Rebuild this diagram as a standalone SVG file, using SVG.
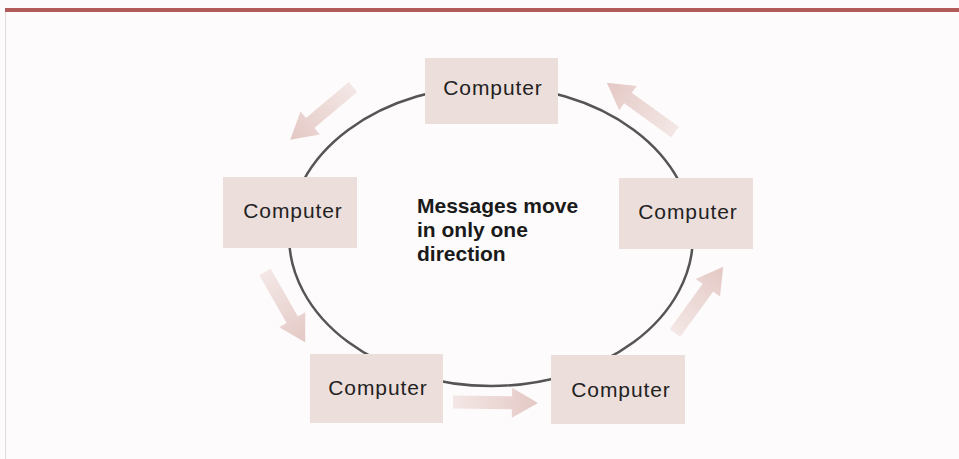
<svg xmlns="http://www.w3.org/2000/svg" width="959" height="459" viewBox="0 0 959 459">
<defs>
<linearGradient id="ag" x1="0" y1="0" x2="1" y2="0">
<stop offset="0" stop-color="#f3e7e5"/>
<stop offset="0.6" stop-color="#ead5d2"/>
<stop offset="1" stop-color="#e4c8c5"/>
</linearGradient>
<style>
.box{fill:#ecdedb}
.lbl{font-family:"Liberation Sans",Arial,sans-serif;font-size:21px;letter-spacing:0.9px;fill:#222;text-anchor:middle}
.msg{font-family:"Liberation Sans",Arial,sans-serif;font-size:21px;font-weight:bold;fill:#1a1a1a}
.arr{fill:url(#ag)}
</style>
</defs>
<rect x="0" y="0" width="959" height="459" fill="#fdfbfb"/>
<rect x="5" y="8" width="954" height="4" fill="#b35a5a"/>
<line x1="5.5" y1="12" x2="5.5" y2="459" stroke="#e2dcdc" stroke-width="1"/>
<g id="connectors">
<ellipse cx="491" cy="236" rx="202" ry="150" fill="none" stroke="#555" stroke-width="2.5"/>
<g id="arrows">
<path class="arr" transform="translate(353,87) rotate(139.9)" d="M0,-6.5 L56,-6.5 L56,-15 L82,0 L56,15 L56,6.5 L0,6.5 Z"/>
<path class="arr" transform="translate(675,132) rotate(-144.2)" d="M0,-6.5 L58,-6.5 L58,-15 L84,0 L58,15 L58,6.5 L0,6.5 Z"/>
<path class="arr" transform="translate(265,272) rotate(60.3)" d="M0,-6.5 L55,-6.5 L55,-15 L81,0 L55,15 L55,6.5 L0,6.5 Z"/>
<path class="arr" transform="translate(675,333) rotate(-54)" d="M0,-6.5 L56,-6.5 L56,-15 L82,0 L56,15 L56,6.5 L0,6.5 Z"/>
<path class="arr" transform="translate(453,402) rotate(0.7)" d="M0,-6.5 L59,-6.5 L59,-15 L85,0 L59,15 L59,6.5 L0,6.5 Z"/>
</g>
</g>
<g id="node-top"><rect class="box" x="425" y="58" width="133" height="66"/><text class="lbl" x="493" y="95">Computer</text></g>
<g id="node-left"><rect class="box" x="223" y="177" width="134" height="71"/><text class="lbl" x="293" y="218">Computer</text></g>
<g id="node-right"><rect class="box" x="619" y="178" width="134" height="71"/><text class="lbl" x="688" y="219">Computer</text></g>
<g id="node-bottom-left"><rect class="box" x="310" y="354" width="133" height="69"/><text class="lbl" x="378" y="395">Computer</text></g>
<g id="node-bottom-right"><rect class="box" x="551" y="355" width="134" height="69"/><text class="lbl" x="621" y="397">Computer</text></g>
<g id="label-center">
<text class="msg" x="417" y="213">Messages move</text>
<text class="msg" x="417" y="237">in only one</text>
<text class="msg" x="417" y="261">direction</text>
</g>
</svg>
